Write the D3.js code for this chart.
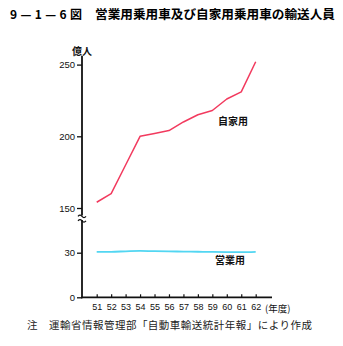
<!DOCTYPE html>
<html>
<head>
<meta charset="utf-8">
<script src="https://cdn.jsdelivr.net/npm/d3@7"></script>
<style>
  html, body { margin: 0; padding: 0; background: #fff; }
  svg { display: block; }
</style>
</head>
<body>
<div id="chart"></div>
<script>
// 年度（昭和）
const years = [51, 52, 53, 54, 55, 56, 57, 58, 59, 60, 61, 62];
// 自家用乗用車の輸送人員（億人）
const privateCars = [154, 160, 180, 200, 202, 204, 210, 215, 218, 226, 231, 252];
// 営業用乗用車の輸送人員（億人）
const commercialCars = [32.3, 32.4, 33.8, 35.0, 34.0, 33.6, 33.0, 32.5, 32.0, 31.6, 31.3, 32.3];
// 縦軸目盛
const yTicks = [0, 30, 150, 200, 250];
const xTickLabels = years.map(String);

const W = 343, H = 346;
const svg = d3.select("#chart").append("svg")
  .attr("width", W).attr("height", H)
  .attr("viewBox", `0 0 ${W} ${H}`);

const jp = "'Noto Sans CJK JP', 'Noto Sans', sans-serif";
const num = "'Liberation Sans', Arial, sans-serif";

// 中断のある縦軸：0〜30 と 150〜250 を別の縮尺で表示
const y = d3.scaleLinear()
  .domain([0, 30, 150, 250])
  .range([297.3, 252.7, 208, 64.6]);
const x = d3.scaleLinear().domain([51, 62]).range([96.7, 255.7]);

const axisX0 = 82, axisY0 = 297.3;

// 表題
svg.append("text")
  .attr("x", 10).attr("y", 19)
  .attr("font-family", jp).attr("font-size", 12).attr("font-weight", "bold")
  .attr("textLength", 72).attr("lengthAdjust", "spacing")
  .text("9 — 1 — 6 図");
svg.append("text")
  .attr("x", 95).attr("y", 19)
  .attr("font-family", jp).attr("font-size", 12.5).attr("font-weight", "bold")
  .attr("textLength", 240).attr("lengthAdjust", "spacingAndGlyphs")
  .text("営業用乗用車及び自家用乗用車の輸送人員");

// 縦軸
const yAxis = d3.axisLeft(y).tickValues(yTicks).tickSize(5).tickPadding(2)
  .tickFormat(d3.format("d"));
const gy = svg.append("g").attr("transform", `translate(${axisX0},0)`).call(yAxis);
gy.select(".domain").remove();
gy.selectAll(".tick line").attr("stroke", "#111").attr("stroke-width", 1.3);
gy.selectAll(".tick text").attr("font-family", num).attr("font-size", 9.5).attr("fill", "#111");

svg.append("line")
  .attr("x1", axisX0).attr("x2", axisX0)
  .attr("y1", 56).attr("y2", axisY0 + 1)
  .attr("stroke", "#111").attr("stroke-width", 1.8);

// 軸の中断記号
svg.append("rect").attr("x", axisX0 - 3).attr("y", 215.5).attr("width", 6).attr("height", 4.5).attr("fill", "#fff");
[215.5, 220].forEach(yy => {
  svg.append("path")
    .attr("d", `M${axisX0 - 4},${yy + 0.8} q2,-2.5 4,0 t4,0`)
    .attr("fill", "none").attr("stroke", "#111").attr("stroke-width", 1.2);
});

svg.append("text")
  .attr("x", 72).attr("y", 55)
  .attr("font-family", jp).attr("font-size", 10).attr("font-weight", "bold")
  .attr("fill", "#111")
  .text("億人");

// 横軸
const xAxis = d3.axisBottom(x).tickValues(years).tickSize(-3).tickPadding(6)
  .tickFormat((d, i) => xTickLabels[i]);
const gx = svg.append("g").attr("transform", `translate(0,${axisY0})`).call(xAxis);
gx.select(".domain").remove();
gx.selectAll(".tick line").attr("stroke", "#111").attr("stroke-width", 1.2);
gx.selectAll(".tick text").attr("font-family", num).attr("font-size", 9).attr("fill", "#111");

svg.append("line")
  .attr("x1", axisX0 - 1).attr("x2", 272)
  .attr("y1", axisY0).attr("y2", axisY0)
  .attr("stroke", "#111").attr("stroke-width", 1.8);

svg.append("text")
  .attr("x", 265).attr("y", 312)
  .attr("font-family", jp).attr("font-size", 9.5).attr("fill", "#111")
  .text("(年度)");

// 自家用
const redLine = d3.line().x((d, i) => x(years[i])).y(d => y(d));
svg.append("path")
  .datum(privateCars)
  .attr("d", redLine)
  .attr("fill", "none").attr("stroke", "#f23a5e").attr("stroke-width", 1.5)
  .attr("stroke-linejoin", "round");

// 営業用
const blueLine = d3.line().x((d, i) => x(years[i])).y(d => y(d)).curve(d3.curveMonotoneX);
svg.append("path")
  .datum(commercialCars)
  .attr("d", blueLine)
  .attr("fill", "none").attr("stroke", "#52d6f2").attr("stroke-width", 1.8);

svg.append("text")
  .attr("x", 218).attr("y", 124.5)
  .attr("font-family", jp).attr("font-size", 10).attr("font-weight", "bold")
  .attr("fill", "#111")
  .text("自家用");
svg.append("text")
  .attr("x", 215).attr("y", 263.5)
  .attr("font-family", jp).attr("font-size", 10).attr("font-weight", "bold")
  .attr("fill", "#111")
  .text("営業用");

// 出典
svg.append("text")
  .attr("x", 27).attr("y", 329)
  .attr("font-family", jp).attr("font-size", 10.5).attr("fill", "#222")
  .attr("textLength", 285).attr("lengthAdjust", "spacing")
  .text("注　運輸省情報管理部「自動車輸送統計年報」により作成");
</script>
</body>
</html>
